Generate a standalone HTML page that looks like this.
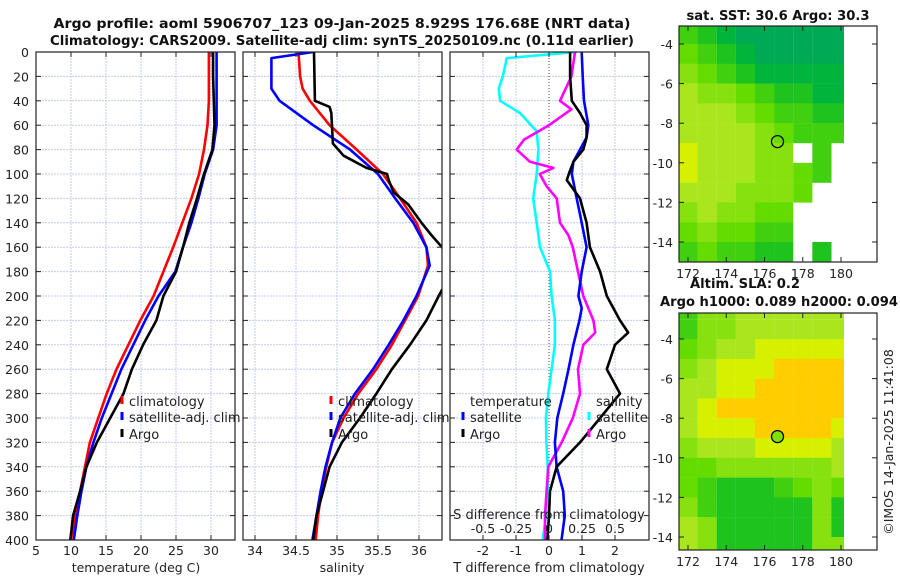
<!DOCTYPE html>
<html><head><meta charset="utf-8"><style>
html,body{margin:0;padding:0;background:#fff;}
svg{display:block;font-family:"DejaVu Sans","Liberation Sans",sans-serif;}
</style></head><body>
<svg id="chart" width="900" height="580" viewBox="0 0 900 580"></svg>
<script>
// ---------- DATA ----------
const tempDepths=[0,20,40,60,80,100,120,140,160,180,200,220,240,260,280,300,320,340,360,380,400];
const tempClim=[29.7,29.7,29.7,29.5,29.0,28.3,27.2,25.9,24.6,23.2,21.8,19.9,18.2,16.5,15.1,13.9,12.7,12.0,11.3,10.6,10.0];
const tempSat=[30.8,30.8,30.8,30.8,30.3,29.1,28.2,27.2,26.0,24.9,22.5,20.6,18.9,17.2,15.8,14.4,13.2,12.2,11.5,10.9,10.4];
const tempArgo=[30.3,30.3,30.4,30.5,30.2,29.0,28.0,26.9,26.0,25.0,23.2,22.2,20.3,18.7,17.5,15.6,13.7,12.2,11.3,10.3,9.9];
const salClimDepths=[0,20,30,40,60,80,100,120,140,160,175,200,220,240,260,280,300,320,340,360,380,400];
const salClim=[34.53,34.55,34.58,34.67,34.91,35.24,35.56,35.77,35.97,36.09,36.11,35.99,35.83,35.67,35.48,35.26,35.08,34.94,34.87,34.81,34.77,34.74];
const salSatDepths=[0,5,30,40,60,80,100,120,140,160,175,200,220,240,260,280,300,320,340,360,380,400];
const salSat=[34.71,34.20,34.20,34.30,34.71,35.16,35.50,35.71,35.93,36.09,36.13,35.97,35.81,35.63,35.44,35.22,35.04,34.94,34.86,34.80,34.75,34.70];
const salArgoDepths=[0,40,45,50,75,85,95,100,105,115,125,140,150,160,170,185,195,200,220,240,260,280,300,320,340,360,380,400];
const salArgo=[34.72,34.73,34.91,34.93,34.95,35.08,35.36,35.61,35.63,35.69,35.87,36.03,36.15,36.28,36.36,36.38,36.28,36.24,36.09,35.89,35.67,35.48,35.28,35.06,34.91,34.83,34.75,34.71];
const dTSatDepths=[0,20,40,60,70,80,90,100,120,140,160,180,200,210,220,240,260,280,300,320,340,360,380,400];
const dTSat=[0.99,1.02,1.06,1.19,1.14,0.94,0.74,0.69,0.84,0.99,1.14,0.99,0.89,0.99,0.92,0.74,0.59,0.43,0.25,0.18,0.23,0.43,0.48,0.38];
const dTArgoDepths=[0,20,40,50,60,70,80,90,100,105,120,140,160,180,200,220,230,240,260,280,300,320,340,360,380,400];
const dTArgo=[0.64,0.64,0.69,0.94,1.14,1.14,1.04,0.74,0.60,0.54,0.94,1.14,1.24,1.55,1.75,2.15,2.4,2.0,1.75,2.15,1.55,0.94,0.23,0.03,0.0,-0.05];
const dSArgoDepths=[0,20,40,47,60,72,80,90,95,100,110,120,140,150,160,180,200,220,230,240,260,280,300,320,340,360,380,400];
const dSArgo=[0.197,0.17,0.083,0.17,0.0,-0.19,-0.245,-0.144,0.033,-0.07,-0.018,0.058,0.083,0.146,0.18,0.22,0.26,0.336,0.35,0.26,0.22,0.235,0.18,0.096,-0.005,-0.018,-0.03,-0.03];
const dSSatDepths=[0,5,20,30,40,50,65,80,100,120,140,160,180,200,220,240,260,280,300,320,340,360,380,400];
const dSSat=[0.21,-0.32,-0.35,-0.38,-0.37,-0.22,-0.093,-0.08,-0.093,-0.12,-0.093,-0.068,0.008,0.02,0.045,0.045,0.02,-0.005,-0.023,-0.02,-0.01,-0.01,-0.023,-0.048];
const depthTicks=[0,20,40,60,80,100,120,140,160,180,200,220,240,260,280,300,320,340,360,380,400];
const tempTicks=[5,10,15,20,25,30];
const salTicks=[34,34.5,35,35.5,36];
const dTTicks=[-2,-1,0,1,2];
const dSTicks=[-0.5,-0.25,0,0.25,0.5];
const dSTickLabels=["-0.5","-0.25","0","0.25","0.5"];
const latTicks=[-4,-6,-8,-10,-12,-14];
const lonTicks=[172,174,176,178,180];
const sstGrid=["432111111","543211111","654322222","766543322","777654433","777765444","877766w4w","87776654w","7776665ww","676655www","565544www","454433w3w"];
const slaGrid=["466777777","567788888","678889999","778899999","789999999","788899998","677788887","556666667","543334565","643333363","763333363","763333366"];
const floatLon=176.68, floatLat=-8.929;

// ---------- HELPERS ----------
const NS="http://www.w3.org/2000/svg";
const svg=document.getElementById('chart');
function mk(tag,attrs,parent){const e=document.createElementNS(NS,tag);for(const k in attrs)e.setAttribute(k,attrs[k]);(parent||svg).appendChild(e);return e;}
function txt(s,x,y,attrs,parent){const e=mk('text',Object.assign({x:x,y:y,'font-size':12.5,fill:'#222'},attrs||{}),parent);e.textContent=s;return e;}
const TOP=52,BOT=540;
const yD=d=>TOP+d*(BOT-TOP)/400;
const xT=v=>36+(v-5)*7;
const xS=v=>255+(v-34)*82;
const xDT=v=>549+v*33;
const xDS=v=>549+v*132;

function panelFrame(x0,x1,name,gridXs,id){
  const g=mk('g',{});
  
  
  const cp=mk('clipPath',{id:id},g);mk('rect',{x:x0,y:TOP,width:x1-x0,height:BOT-TOP},cp);
  depthTicks.forEach(d=>{const l=mk('line',{x1:x0,x2:x1,y1:yD(d),y2:yD(d),stroke:'#c4cbea','stroke-width':1,'stroke-dasharray':'2,1'},g);
    });
  gridXs.forEach(x=>{const l=mk('line',{x1:x,x2:x,y1:TOP,y2:BOT,stroke:'#c4cbea','stroke-width':1,'stroke-dasharray':'2,1'},g);
    });
  return g;
}
function border(x0,x1,g,xticks){
  depthTicks.forEach(d=>{mk('line',{x1:x0,x2:x0+5,y1:yD(d),y2:yD(d),stroke:'#222'},g);mk('line',{x1:x1-5,x2:x1,y1:yD(d),y2:yD(d),stroke:'#222'},g);});
  xticks.forEach(x=>{mk('line',{x1:x,x2:x,y1:BOT,y2:BOT-5,stroke:'#222'},g);mk('line',{x1:x,x2:x,y1:TOP,y2:TOP+5,stroke:'#222'},g);});
  const r=mk('rect',{x:x0,y:TOP,width:x1-x0,height:BOT-TOP,fill:'none',stroke:'#222','stroke-width':1.2},g);
  
}
function series(vals,depths,xf,color,name,clip,g){
  const pts=vals.map((v,i)=>xf(v).toFixed(1)+','+yD(depths[i]).toFixed(1)).join(' ');
  const p=mk('polyline',{points:pts,fill:'none',stroke:color,'stroke-width':2.6,'stroke-linejoin':'round','clip-path':'url(#'+clip+')'},g);
  
  
}
function legendEntry(label,mx,y,color,g,name){
  const gg=mk('g',{},g);
  
  
  if(color)mk('line',{x1:mx,x2:mx,y1:y-10,y2:y-2,stroke:color,'stroke-width':3},gg);
  txt(label,mx+7,y,{'font-size':13},gg);
}

// ---------- TITLE ----------
const t1=txt('Argo profile: aoml 5906707_123 09-Jan-2025 8.929S 176.68E (NRT data)',342,28,{'font-weight':'bold','text-anchor':'middle','font-size':13,fill:'#111',textLength:577,lengthAdjust:'spacingAndGlyphs'});

const t2=txt('Climatology: CARS2009. Satellite-adj clim: synTS_20250109.nc (0.11d earlier)',342,45,{'font-weight':'bold','text-anchor':'middle','font-size':13,fill:'#111',textLength:584,lengthAdjust:'spacingAndGlyphs'});


// ---------- PANEL 1: temperature ----------
const g1=panelFrame(36,235,'temperature-panel',tempTicks.map(xT),'c1');
series(tempClim,tempDepths,xT,'#ff0000','temp-climatology-line','c1',g1);
series(tempSat,tempDepths,xT,'#0000ff','temp-satellite-line','c1',g1);
series(tempArgo,tempDepths,xT,'#000000','temp-argo-line','c1',g1);
border(36,235,g1,tempTicks.map(xT));
depthTicks.forEach(d=>{const e=txt(String(d),29,yD(d)+5,{'text-anchor':'end'},g1);});
tempTicks.forEach(v=>{const e=txt(String(v),xT(v),555,{'text-anchor':'middle'},g1);});
const xa1=txt('temperature (deg C)',136,572,{'text-anchor':'middle'},g1);
legendEntry('climatology',122,406,'#ff0000',g1,'legend-climatology');
legendEntry('satellite-adj. clim',122,422,'#0000ff',g1,'legend-satellite-adj');
legendEntry('Argo',122,439,'#000000',g1,'legend-argo');

// ---------- PANEL 2: salinity ----------
const g2=panelFrame(243,442,'salinity-panel',salTicks.map(xS),'c2');
series(salClim,salClimDepths,xS,'#ff0000','sal-climatology-line','c2',g2);
series(salSat,salSatDepths,xS,'#0000ff','sal-satellite-line','c2',g2);
series(salArgo,salArgoDepths,xS,'#000000','sal-argo-line','c2',g2);
border(243,442,g2,salTicks.map(xS));
salTicks.forEach(v=>{const e=txt(String(v),xS(v),555,{'text-anchor':'middle'},g2);});
const xa2=txt('salinity',342,572,{'text-anchor':'middle'},g2);
legendEntry('climatology',331,406,'#ff0000',g2,'legend-climatology');
legendEntry('satellite-adj. clim',331,422,'#0000ff',g2,'legend-satellite-adj');
legendEntry('Argo',331,439,'#000000',g2,'legend-argo');

// ---------- PANEL 3: differences ----------
const g3=panelFrame(450,649,'difference-panel',dTTicks.filter(v=>v!==0).map(xDT),'c3');
const zl=mk('line',{x1:549,x2:549,y1:TOP,y2:BOT,stroke:'#444','stroke-width':1,'stroke-dasharray':'1,2'},g3);

series(dSSat,dSSatDepths,xDS,'#00ffff','sal-diff-satellite-line','c3',g3);
series(dSArgo,dSArgoDepths,xDS,'#ff00ff','sal-diff-argo-line','c3',g3);
series(dTSat,dTSatDepths,xDT,'#0000ff','temp-diff-satellite-line','c3',g3);
series(dTArgo,dTArgoDepths,xDT,'#000000','temp-diff-argo-line','c3',g3);
border(450,649,g3,dTTicks.map(xDT));
dTTicks.forEach(v=>{const e=txt(String(v),xDT(v),555,{'text-anchor':'middle'},g3);});
const xa3=txt('T difference from climatology',549,572,{'text-anchor':'middle','font-size':13},g3);
const sat=txt('S difference from climatology',549,519,{'text-anchor':'middle','font-size':13},g3);
dSTicks.forEach((v,i)=>{const e=txt(dSTickLabels[i],xDS(v),533,{'text-anchor':'middle'},g3);});
legendEntry('temperature',463,406,null,g3,'legend-temperature-header');
legendEntry('satellite',463,422,'#0000ff',g3,'legend-temp-satellite');
legendEntry('Argo',463,439,'#000000',g3,'legend-temp-argo');
legendEntry('salinity',589,406,null,g3,'legend-salinity-header');
legendEntry('satellite',589,422,'#00ffff',g3,'legend-sal-satellite');
legendEntry('Argo',589,439,'#ff00ff',g3,'legend-sal-argo');

// ---------- MAPS ----------
const cStops=[[0,[0,160,110]],[2,[0,180,60]],[3,[30,195,30]],[5,[100,220,0]],[7,[170,230,30]],[8,[215,240,0]],[9,[255,205,0]]];
function cmap(v){for(let i=1;i<cStops.length;i++){if(v<=cStops[i][0]){const a=cStops[i-1],b=cStops[i];const t=(v-a[0])/(b[0]-a[0]);const c=a[1].map((x,k)=>Math.round(x+(b[1][k]-x)*t));return 'rgb('+c.join(',')+')';}}return 'rgb(255,205,0)';}
const xLon=l=>688+(l-172)*19.125;
function drawMap(top,bottom,grid,name,title1,title2,filledMarker,id,lat4y){
  const g=mk('g',{});
  
  
  const yl=lat=>lat4y+(-4-lat)*19.8;
  const cp=mk('clipPath',{id:id},g);mk('rect',{x:679,y:top,width:844-679,height:bottom-top},cp);
  const cg=mk('g',{'clip-path':'url(#'+id+')'},g);
  const fr=grid[0];for(let c=0;c<fr.length;c++){if(fr[c]==='w')continue;const e=mk('rect',{x:xLon(171.5+c),y:top-20,width:19.2,height:yl(-3)-top+20,fill:cmap(+fr[c])},cg);}
  grid.forEach((row,r)=>{for(let c=0;c<row.length;c++){const ch=row[c];if(ch==='w')continue;
    const lat=-3-r, lon=171.5+c;
    const cell=mk('rect',{x:xLon(lon),y:yl(lat),width:19.2,height:20,fill:cmap(+ch)},cg);
    
    
  }});
  const mkr=mk('circle',{cx:xLon(floatLon),cy:yl(floatLat),r:6,fill:filledMarker?'#80e000':'none',stroke:'#000','stroke-width':1.3},g);
  
  latTicks.forEach(l=>{const y=yl(l);mk('line',{x1:679,x2:684,y1:y,y2:y,stroke:'#222'},g);mk('line',{x1:872,x2:877,y1:y,y2:y,stroke:'#222'},g);
    const e=txt(String(l),673,y+5,{'text-anchor':'end'},g);});
  lonTicks.forEach(l=>{const x=xLon(l);mk('line',{x1:x,x2:x,y1:bottom,y2:bottom-5,stroke:'#222'},g);mk('line',{x1:x,x2:x,y1:top,y2:top+5,stroke:'#222'},g);
    const e=txt(String(l),x,bottom+16,{'text-anchor':'middle'},g);});
  mk('rect',{x:679,y:top,width:198,height:bottom-top,fill:'none',stroke:'#222','stroke-width':1.2},g);
  if(title2){const a=txt(title1,745,top-25,{'font-weight':'bold','text-anchor':'middle','font-size':13,fill:'#111',textLength:110,lengthAdjust:'spacingAndGlyphs'},g);
    const b=txt(title2,779,top-7,{'font-weight':'bold','text-anchor':'middle','font-size':13,fill:'#111',textLength:238,lengthAdjust:'spacingAndGlyphs'},g);}
  else{const a=txt(title1,778,top-6,{'font-weight':'bold','text-anchor':'middle','font-size':13,fill:'#111',textLength:183,lengthAdjust:'spacingAndGlyphs'},g);}
}
drawMap(26,262,sstGrid,'sst-map','sat. SST: 30.6 Argo: 30.3',null,false,'m1',44);
drawMap(313,550,slaGrid,'sla-map','Altim. SLA: 0.2','Argo h1000: 0.089 h2000: 0.094',true,'m2',339);
const cr=txt('©IMOS 14-Jan-2025 11:41:08',0,0,{'font-size':12.5,'text-anchor':'middle',transform:'translate(893,442) rotate(-90)'});

</script>
</body></html>
